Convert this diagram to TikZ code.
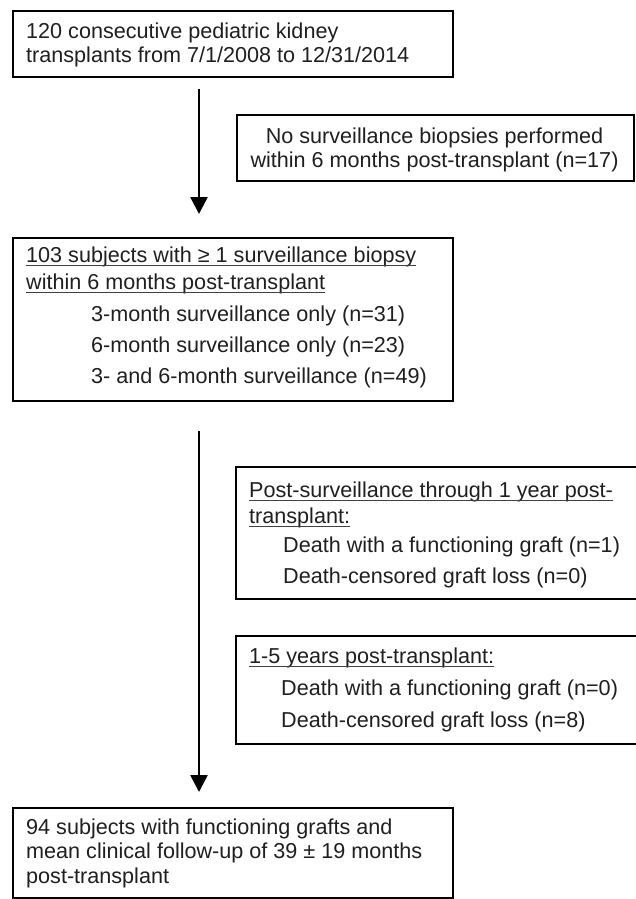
\documentclass[tikz,border=0pt]{standalone}
\usepackage{fontspec}
\setmainfont{Liberation Sans}
\usetikzlibrary{arrows.meta}
\begin{document}
\begin{tikzpicture}[x=1pt,y=-1pt,
  box/.style={draw=black, line width=1.6pt, inner sep=0pt, anchor=north west},
  txt/.style={anchor=base west, inner sep=0pt, font=\fontsize{21.6}{26}\selectfont, text=black!88},
  ctxt/.style={anchor=base, inner sep=0pt, font=\fontsize{21.6}{26}\selectfont, text=black!88},
  arr/.style={line width=2.6pt, -{Triangle[width=17pt,length=17pt]}},
  ul/.style={line width=1.1pt, black!75}]
\useasboundingbox (0,0) rectangle (635,899);

% boxes
\node[box, minimum width=440pt, minimum height=66pt] (b1) at (12,10) {};
\node[box, minimum width=397pt, minimum height=66pt] (b2) at (236,114) {};
\node[box, minimum width=440pt, minimum height=163pt] (b3) at (12,237) {};
\node[box, minimum width=405pt, minimum height=132pt] (b4) at (235,466) {};
\node[box, minimum width=405pt, minimum height=108pt] (b5) at (235,635) {};
\node[box, minimum width=440pt, minimum height=90pt] (b6) at (12,807) {};

% arrows
\coordinate (ax) at (199,0);
\draw[arr, shorten <=11pt, shorten >=23pt] (b1.south -| ax) -- (b3.north -| ax);
\draw[arr, shorten <=29pt, shorten >=15pt] (b3.south -| ax) -- (b6.north -| ax);

% box 1
\node[txt] (t1a) at (26,38) {120 consecutive pediatric kidney};
\node[txt] (t1b) at (26,63) {transplants from 7/1/2008 to 12/31/2014};

% box 2
\node[ctxt] (t2a) at (434.5,143) {No surveillance biopsies performed};
\node[ctxt] (t2b) at (434.5,167) {within 6 months post-transplant (n=17)};

% box 3
\node[txt] (t3a) at (26,262) {103 subjects with ≥ 1 surveillance biopsy};
\node[txt] (t3b) at (26,289) {within 6 months post-transplant};
\node[txt] (t3c) at (91,321) {3-month surveillance only (n=31)};
\node[txt] (t3d) at (91,352) {6-month surveillance only (n=23)};
\node[txt] (t3e) at (91,383) {3- and 6-month surveillance (n=49)};
\draw[ul] ([yshift=-3.5pt]t3a.base west) -- ([yshift=-3.5pt]t3a.base east);
\draw[ul] ([yshift=-3.5pt]t3b.base west) -- ([yshift=-3.5pt]t3b.base east);

% box 4
\node[txt] (t4a) at (249,497) {Post-surveillance through 1 year post-};
\node[txt] (t4b) at (249,523) {transplant:};
\node[txt] (t4c) at (283,552) {Death with a functioning graft (n=1)};
\node[txt] (t4d) at (283,583) {Death-censored graft loss (n=0)};
\draw[ul] ([yshift=-3.5pt]t4a.base west) -- ([yshift=-3.5pt]t4a.base east);
\draw[ul] ([yshift=-3.5pt]t4b.base west) -- ([yshift=-3.5pt]t4b.base east);

% box 5
\node[txt] (t5a) at (249,663) {1-5 years post-transplant:};
\node[txt] (t5b) at (281,695) {Death with a functioning graft (n=0)};
\node[txt] (t5c) at (281,727) {Death-censored graft loss (n=8)};
\draw[ul] ([yshift=-3.5pt]t5a.base west) -- ([yshift=-3.5pt]t5a.base east);

% box 6
\node[txt] (t6a) at (26,834) {94 subjects with functioning grafts and};
\node[txt] (t6b) at (26,858) {mean clinical follow-up of 39 ± 19 months};
\node[txt] (t6c) at (26,883) {post-transplant};
\end{tikzpicture}
\end{document}
